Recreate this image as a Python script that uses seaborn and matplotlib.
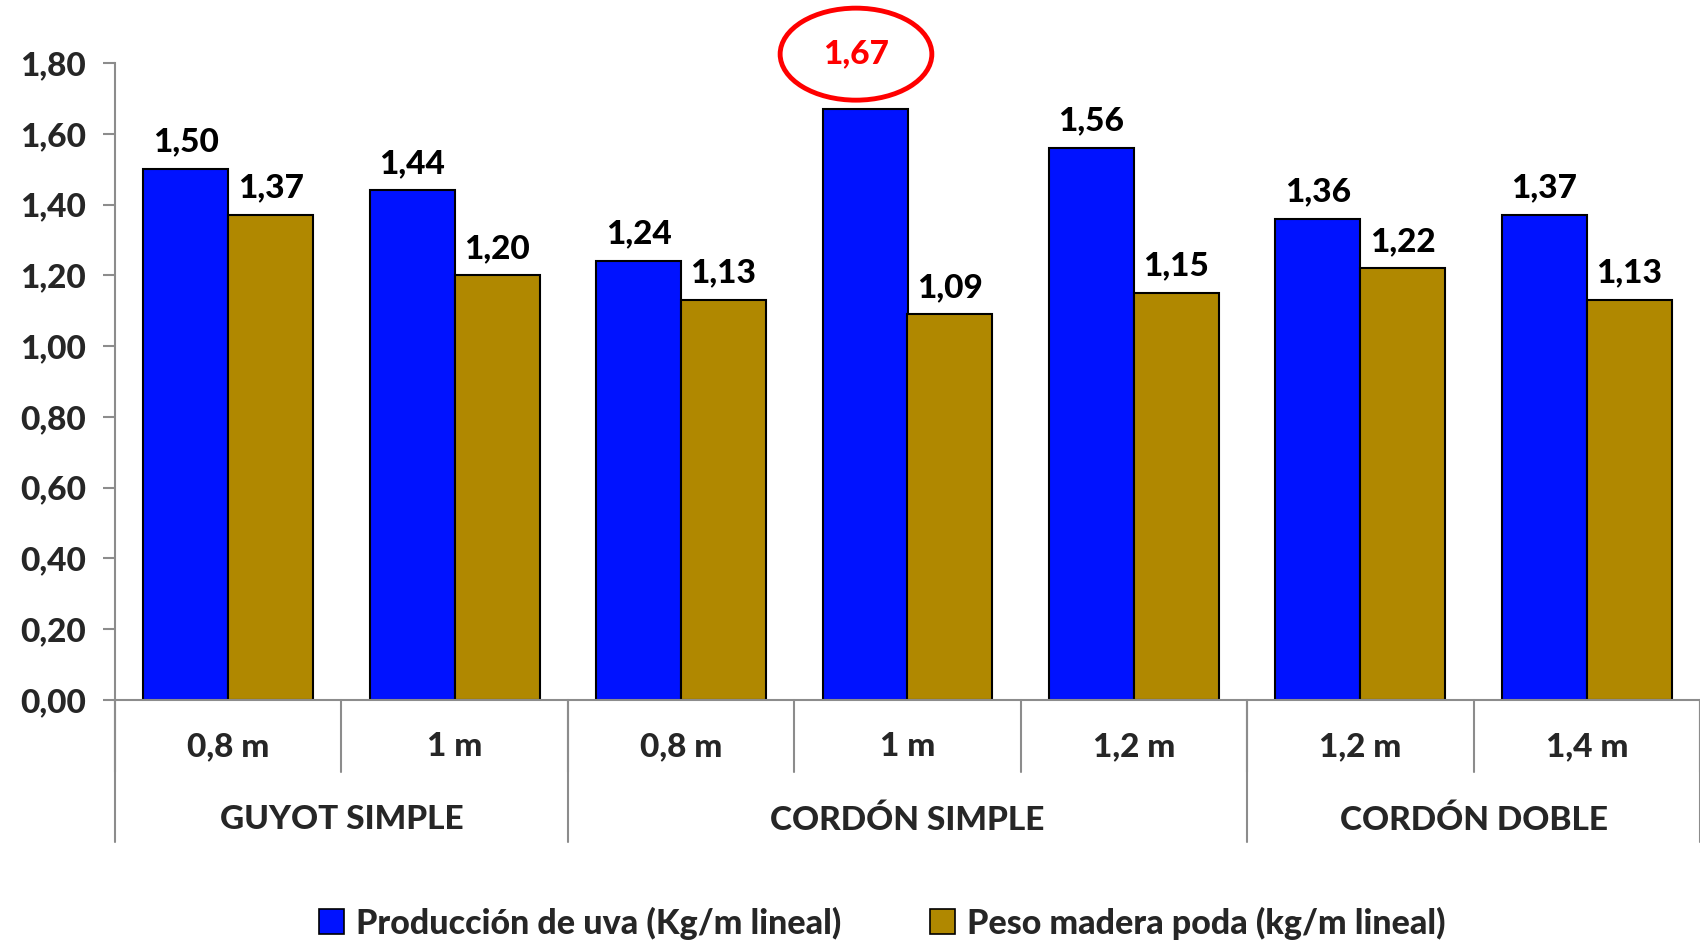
import matplotlib
matplotlib.use("Agg")
import matplotlib.pyplot as plt
import seaborn as sns
import pandas as pd
from matplotlib.patches import Ellipse, Patch

# ---- data ----
spacings = ["0,8 m", "1 m", "0,8 m", "1 m", "1,2 m", "1,2 m", "1,4 m"]
systems = ["GUYOT SIMPLE", "CORDÓN SIMPLE", "CORDÓN DOBLE"]
system_sizes = [2, 3, 2]
series_names = ["Producción de uva (Kg/m lineal)", "Peso madera poda (kg/m lineal)"]
produccion = [1.50, 1.44, 1.24, 1.67, 1.56, 1.36, 1.37]
madera = [1.37, 1.20, 1.13, 1.09, 1.15, 1.22, 1.13]
highlight_index = 3
y_ticks = [0.0, 0.2, 0.4, 0.6, 0.8, 1.0, 1.2, 1.4, 1.6, 1.8]

colors = ["#0012FF", "#B08800"]
gray = "#8C8C8C"
FW = "black"
FS = 24

sns.set_theme(style="white")
plt.rcParams["font.family"] = ["Lato", "DejaVu Sans"]
plt.rcParams["font.weight"] = "bold"

cat_ids = [f"c{i}" for i in range(len(spacings))]
df = pd.DataFrame({
    "cat": cat_ids * 2,
    "serie": [series_names[0]] * len(cat_ids) + [series_names[1]] * len(cat_ids),
    "valor": produccion + madera,
})

fig = plt.figure(figsize=(17, 9.43), dpi=100)
ax = fig.add_axes([115 / 1700, 1 - 700 / 943, 1 - 115 / 1700, (700 - 63) / 943])

sns.barplot(data=df, x="cat", y="valor", hue="serie", order=cat_ids,
            hue_order=series_names, palette=colors, width=0.75,
            edgecolor="black", linewidth=1.5, saturation=1, ax=ax, legend=False)

ax.set_xlim(-0.5, len(cat_ids) - 0.5)
ax.set_ylim(0, 1.8)
ax.set_yticks(y_ticks)
ax.set_yticklabels([f"{v:.2f}".replace(".", ",") for v in y_ticks],
                   fontsize=FS, fontweight=FW)
ax.tick_params(axis="y", length=9, width=1.5, color=gray, pad=12, left=True)
ax.set_xticks([])
ax.set_xlabel("")
ax.set_ylabel("")
for s in ["top", "right"]:
    ax.spines[s].set_visible(False)
for s in ["left", "bottom"]:
    ax.spines[s].set_color(gray)
    ax.spines[s].set_linewidth(1.5)

# data labels
for ci, cont in enumerate(ax.containers):
    vals = produccion if ci == 0 else madera
    labels = []
    for i, v in enumerate(vals):
        if ci == 0 and i == highlight_index:
            labels.append("")
        else:
            labels.append(f"{v:.2f}".replace(".", ","))
    ax.bar_label(cont, labels=labels, padding=9, fontsize=FS, fontweight=FW,
                 color="black")

# highlighted value
hp = ax.containers[0].patches[highlight_index]
hx = hp.get_x() + hp.get_width() / 2 - 0.04
hy = 1.825
ax.text(hx, hy, f"{produccion[highlight_index]:.2f}".replace(".", ","),
        ha="center", va="center", fontsize=FS, fontweight=FW, color="red",
        clip_on=False)
ax.add_patch(Ellipse((hx, hy), 0.67, 0.26, fill=False, edgecolor="red",
                     linewidth=3.5, clip_on=False))

# category axis (two levels)
tr = ax.get_xaxis_transform()
for i, lab in enumerate(spacings):
    ax.text(i, -0.073, lab, transform=tr, ha="center", va="center",
            fontsize=FS, fontweight=FW, clip_on=False)
for i in range(len(spacings) + 1):
    ax.plot([i - 0.5, i - 0.5], [0, -0.113], transform=tr, color=gray,
            linewidth=1.5, clip_on=False)
start = 0
bounds = [0]
for name, n in zip(systems, system_sizes):
    center = start + (n - 1) / 2
    ax.text(center, -0.188, name, transform=tr, ha="center", va="center",
            fontsize=FS, fontweight=FW, clip_on=False)
    start += n
    bounds.append(start)
for b in bounds:
    ax.plot([b - 0.5, b - 0.5], [0, -0.223], transform=tr, color=gray,
            linewidth=1.5, clip_on=False)

# legend
handles = [Patch(facecolor=c, edgecolor="black", linewidth=1.2) for c in colors]
fig.legend(handles, series_names, loc="center", bbox_to_anchor=(0.519, 0.021),
           ncol=2, frameon=False, prop={"size": 24.5, "weight": FW},
           handlelength=0.75, handleheight=0.75, handletextpad=0.35,
           columnspacing=2.6)

fig.savefig("out.png", dpi=100)
